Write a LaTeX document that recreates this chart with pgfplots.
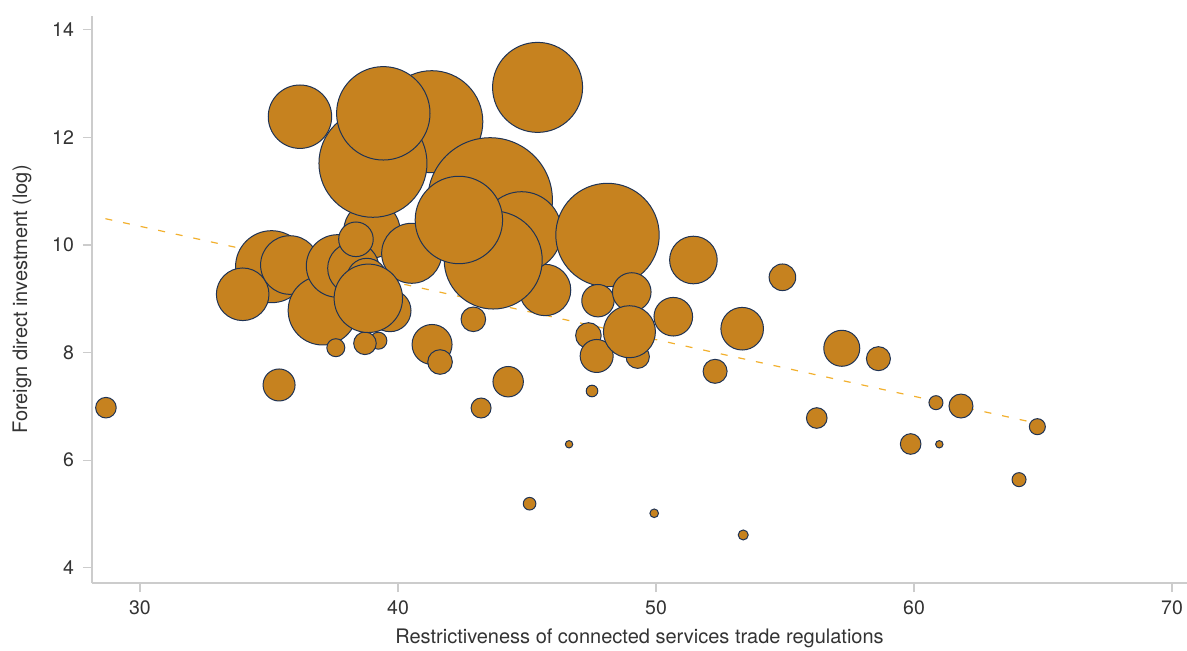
\documentclass[border=0pt]{standalone}
\usepackage{fontspec}
\setmainfont{TeX Gyre Heros}
\usepackage{pgfplots}
\usepackage{pgfplotstable}
\pgfplotsset{compat=1.18}
\definecolor{bubble}{HTML}{C6821F}
\definecolor{bubbleline}{HTML}{1F3354}
\definecolor{trend}{HTML}{F2B02E}
\definecolor{axisgray}{HTML}{CCCCCC}
\definecolor{txt}{HTML}{333333}

\pgfplotstableread{
x y r
28.68 6.976 10.3
35.39 7.398 16
38.99 10.279 28
35.10 9.597 36
33.98 9.084 26.3
35.81 9.628 29.3
37.08 8.783 34.5
37.66 9.610 31.3
38.27 9.567 25.7
38.37 10.106 17.3
38.79 9.381 20
39.69 8.779 21
37.59 8.091 9
39.24 8.221 8.5
38.72 8.173 11.3
40.53 9.846 30
38.85 9.009 34.2
41.31 12.292 51
39.03 11.519 54
39.43 12.448 46.7
36.20 12.385 31.7
45.41 12.93 45
43.57 10.836 62.3
45.70 9.164 25.7
44.79 10.247 40
48.12 10.186 51.7
43.69 9.721 49
42.36 10.465 43.7
42.92 8.619 12.3
41.32 8.151 20
41.63 7.825 12.3
44.27 7.459 15.2
47.52 7.286 5.8
43.22 6.970 10
47.75 8.965 16.2
49.06 9.126 19.3
47.38 8.318 12.8
49.29 7.924 11.7
47.70 7.937 16.5
48.97 8.388 26
51.45 9.721 23.8
54.90 9.400 13.3
50.67 8.667 19.3
53.34 8.444 21.3
57.20 8.080 18
58.62 7.887 12
52.29 7.652 12
56.23 6.784 10.3
46.63 6.296 3.7
45.10 5.191 6.3
49.93 5.013 4.3
53.38 4.610 5
60.85 7.069 7
61.82 7.007 12
59.87 6.301 10.3
60.98 6.296 3.7
64.78 6.623 8
64.07 5.638 7
}\bubbles

\begin{document}
\fontsize{10bp}{12bp}\selectfont
\begin{tikzpicture}
\begin{axis}[
  scale only axis,
  width=547.5bp, height=283.5bp,
  xmin=28.14, xmax=70.58,
  ymin=3.717, ymax=14.257,
  axis x line*=bottom, axis y line*=left,
  axis line style={draw=axisgray, line width=0.6bp},
  xtick={30,40,50,60,70},
  ytick={4,6,8,10,12,14},
  tick align=outside,
  major tick length=4.5bp,
  tick style={draw=axisgray, line width=0.6bp},
  /pgf/number format/assume math mode=true,
  ticklabel style={font=\fontsize{9.75bp}{11bp}\selectfont, text=txt},
  xticklabel style={yshift=-1bp},
  yticklabel style={xshift=-1bp},
  xlabel={Restrictiveness of connected services trade regulations},
  ylabel={Foreign direct investment (log)},
  label style={font=\fontsize{10bp}{12bp}\selectfont, text=txt},
  xlabel style={at={(axis description cs:0.5,-0.097)}, anchor=center},
  ylabel style={at={(axis description cs:-0.0639,0.5)}, anchor=center},
  clip=false,
]
\addplot[scatter, only marks, mark=*,
  scatter/use mapped color={draw=bubbleline, fill=bubble},
  mark options={line width=0.5bp},
  visualization depends on={0.502*\thisrow{r} \as \msize},
  scatter/@pre marker code/.append style={/tikz/mark size=\msize},
] table[x=x, y=y] {\bubbles};
\addplot[draw=trend, line width=0.6bp, dash pattern=on 3.5bp off 5.5bp] coordinates {(28.66,10.489) (64.76,6.686)};
\end{axis}
\pgfresetboundingbox
\path[use as bounding box] ([shift={(-46bp,-34bp)}]current axis.south west) rectangle ([shift={(0bp,8bp)}]current axis.north east);
\end{tikzpicture}
\end{document}
